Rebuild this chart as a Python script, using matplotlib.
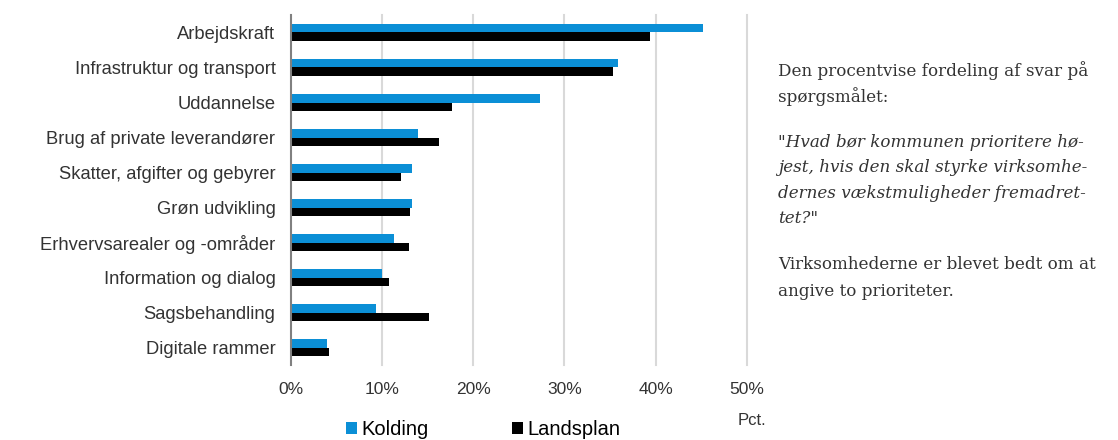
import matplotlib.pyplot as plt
import numpy as np

plt.rcParams['font.family'] = ['Liberation Sans', 'DejaVu Sans']

categories = ['Arbejdskraft', 'Infrastruktur og transport', 'Uddannelse',
              'Brug af private leverandører', 'Skatter, afgifter og gebyrer',
              'Grøn udvikling', 'Erhvervsarealer og -områder',
              'Information og dialog', 'Sagsbehandling', 'Digitale rammer']
kolding = [45.2, 35.9, 27.3, 14.0, 13.3, 13.3, 11.3, 10.0, 9.4, 4.0]
landsplan = [39.4, 35.3, 17.7, 16.3, 12.1, 13.1, 13.0, 10.8, 15.2, 4.2]
xticks = [0, 10, 20, 30, 40, 50]

fig = plt.figure(figsize=(11.18, 4.4), dpi=100)
ax = fig.add_axes([0.260, 0.170, 0.408, 0.796])

y = np.arange(len(categories))
h = 0.25
ax.barh(y - h / 2, kolding, height=h, color='#0b8fd6', label='Kolding')
ax.barh(y + h / 2, landsplan, height=h, color='black', label='Landsplan')

ax.set_ylim(len(categories) - 0.5, -0.5)
ax.set_xlim(0, 50)
ax.set_xticks(xticks)
ax.set_xticklabels([f'{t}%' for t in xticks])
ax.set_yticks(y)
ax.set_yticklabels(categories)
ax.tick_params(length=0, labelsize=13.2, colors='#333333')
ax.tick_params(axis='x', labelsize=12.5, pad=12)
ax.tick_params(axis='y', pad=11)
for t in xticks[1:]:
    ax.axvline(t, color='#d9d9d9', linewidth=1.5, zorder=0, clip_on=False)
for s in ['top', 'right', 'bottom']:
    ax.spines[s].set_visible(False)
ax.spines['left'].set_color('#808080')
ax.spines['left'].set_linewidth(1.5)

fig.legend(loc='lower left', bbox_to_anchor=(0.293, -0.04), ncol=2, frameon=False,
           fontsize=14.5, handlelength=0.55, handleheight=0.55, handletextpad=0.25,
           columnspacing=4.1)
fig.text(0.660, 0.035, 'Pct.', fontsize=12, color='#333333')

tx = 0.696
fs = 12.1
fig.text(tx, 0.84, 'Den procentvise fordeling af svar på', family='DejaVu Serif', fontsize=fs, color='#333333', va='center')
fig.text(tx, 0.78, 'spørgsmålet:', family='DejaVu Serif', fontsize=fs, color='#333333', va='center')
quote = ['"Hvad bør kommunen prioritere hø-', 'jest, hvis den skal styrke virksomhe-',
         'dernes vækstmuligheder fremadret-', 'tet?"']
for i, line in enumerate(quote):
    fig.text(tx, 0.677 - i * 0.058, line, family='DejaVu Serif', style='italic',
             fontsize=fs, color='#333333', va='center')
fig.text(tx, 0.398, 'Virksomhederne er blevet bedt om at', family='DejaVu Serif', fontsize=fs, color='#333333', va='center')
fig.text(tx, 0.338, 'angive to prioriteter.', family='DejaVu Serif', fontsize=fs, color='#333333', va='center')

fig.savefig('out.png', dpi=100)
